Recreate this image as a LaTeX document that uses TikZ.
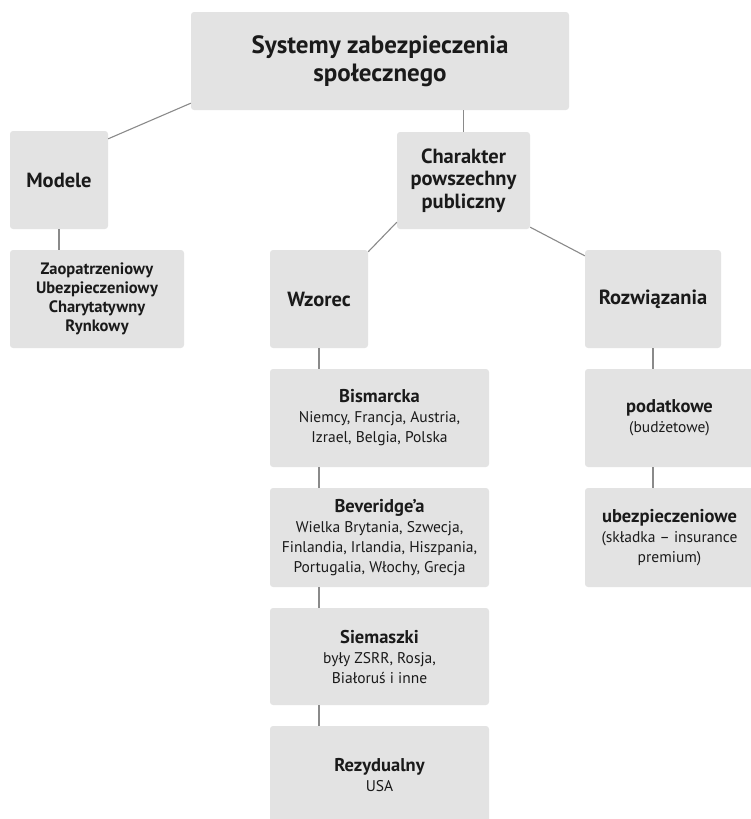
\documentclass[tikz,border=0pt]{standalone}
\usepackage{fontspec}
\setmainfont{PT Sans}
\usetikzlibrary{calc}
\definecolor{boxfill}{HTML}{E3E3E3}
\definecolor{linegray}{HTML}{8A8A8A}
\definecolor{txt}{HTML}{1A1A1A}
\tikzset{
  box/.style={fill=boxfill, rounded corners=3pt, inner sep=0pt, align=center, text=txt},
  hdr/.style={box, font=\fontsize{20.5}{22.5}\selectfont\bfseries},
  body/.style={box, font=\fontsize{15.5}{20}\selectfont},
  conn/.style={draw=linegray, line width=1.1pt},
}
\newcommand{\ttl}[1]{{\fontsize{18.5}{20}\selectfont\bfseries #1}}
\begin{document}
\begin{tikzpicture}[x=1pt,y=-1pt]
\useasboundingbox (0,0) rectangle (750,819);
\node[box, minimum width=378pt, minimum height=98pt, font=\fontsize{25}{27.5}\selectfont\bfseries] (top) at (380,61) {Systemy zabezpieczenia\\społecznego};
\node[hdr, minimum width=98pt, minimum height=98pt] (mo) at (59,180) {Modele};
\node[box, minimum width=174pt, minimum height=98pt, font=\fontsize{16.5}{19}\selectfont\bfseries] (za) at (97,299) {Zaopatrzeniowy\\Ubezpieczeniowy\\Charytatywny\\Rynkowy};
\node[hdr, minimum width=133pt, minimum height=97pt] (ch) at (463.5,180.5) {Charakter\\powszechny\\publiczny};
\node[hdr, minimum width=98pt, minimum height=98pt] (wz) at (319,299) {Wzorec};
\node[hdr, minimum width=136pt, minimum height=98pt] (ro) at (653,299) {Rozwiązania};
\node[body, minimum width=169pt, minimum height=98pt] (po) at (669.5,418) {\ttl{podatkowe}\\(budżetowe)};
\node[body, minimum width=169pt, minimum height=99pt] (ub) at (669.5,537.5) {\ttl{ubezpieczeniowe}\\(składka – insurance\\premium)};
\node[body, minimum width=219pt, minimum height=98pt] (bi) at (379.5,418) {\ttl{Bismarcka}\\Niemcy, Francja, Austria,\\Izrael, Belgia, Polska};
\node[body, minimum width=219pt, minimum height=99pt] (bev) at (379.5,537.5) {\ttl{Beveridge’a}\\Wielka Brytania, Szwecja,\\Finlandia, Irlandia, Hiszpania,\\Portugalia, Włochy, Grecja};
\node[body, minimum width=219pt, minimum height=97pt] (si) at (379.5,656.5) {\ttl{Siemaszki}\\były ZSRR, Rosja,\\Białoruś i inne};
\node[body, minimum width=219pt, minimum height=98pt] (re) at (379.5,775) {\ttl{Rezydualny}\\USA};
% connectors
\draw[conn] ($(mo.north east)+(0,8)$) -- ($(top.south west)+(0,-7)$);
\draw[conn] (mo.south) -- (mo.south |- za.north);
\draw[conn] (ch.north) -- (ch.north |- top.south);
\draw[conn] ($(wz.north east)+(0,2)$) -- ($(ch.south west)+(0,-7)$);
\draw[conn] ($(ch.south east)+(0,-2)$) -- ($(ro.north west)+(0,6)$);
\draw[conn] (wz.south) -- (wz.south |- bi.north);
\draw[conn] (bi.south -| wz.south) -- (bev.north -| wz.south);
\draw[conn] (bev.south -| wz.south) -- (si.north -| wz.south);
\draw[conn] (si.south -| wz.south) -- (re.north -| wz.south);
\draw[conn] (ro.south) -- (ro.south |- po.north);
\draw[conn] (po.south -| ro.south) -- (ub.north -| ro.south);
\end{tikzpicture}
\end{document}
